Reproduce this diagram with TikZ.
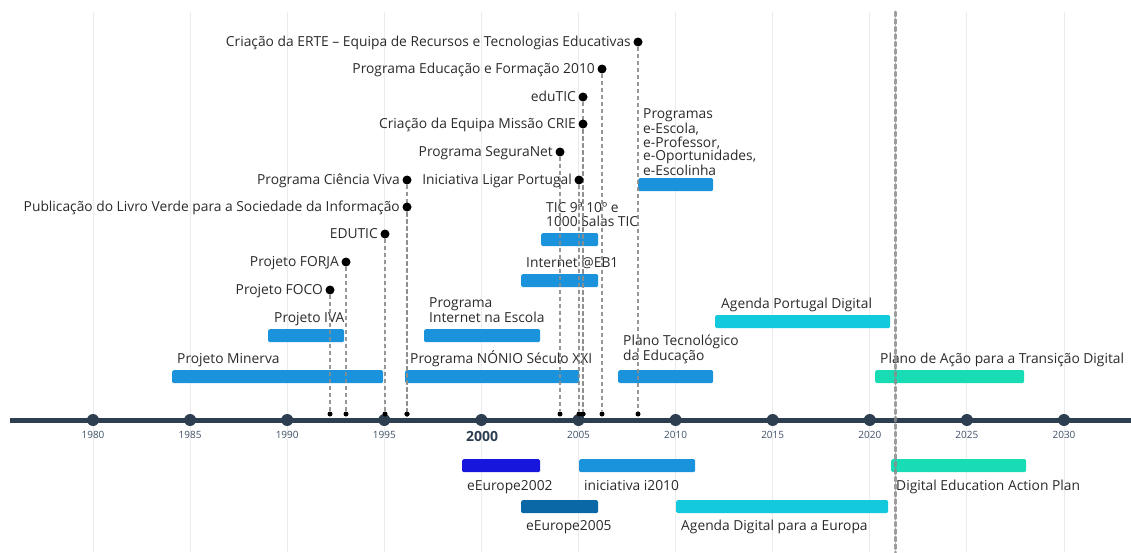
\documentclass[tikz,border=0pt]{standalone}
\usepackage{fontspec}
\setmainfont{Open Sans}
\definecolor{gridc}{HTML}{EBEBEB}
\definecolor{axisc}{HTML}{2C3E50}
\definecolor{barblue}{HTML}{1A93DC}
\definecolor{bluedeep}{HTML}{1616DC}
\definecolor{bluedark}{HTML}{0A68A6}
\definecolor{cyanc}{HTML}{12CADC}
\definecolor{tealc}{HTML}{17DCB4}
\definecolor{dashc}{HTML}{8C8C8C}
\definecolor{txtc}{HTML}{2A2A2A}
\definecolor{yearc}{HTML}{3E5068}
\begin{document}
\begin{tikzpicture}[x=1pt,y=-1pt,
  gridline/.style={draw=gridc, line width=1pt},
  axisline/.style={draw=axisc, line width=5pt},
  yeardot/.style={circle, fill=axisc, minimum size=12pt, inner sep=0pt},
  yearlbl/.style={font=\fontsize{10}{12}\selectfont, text=yearc, inner sep=0pt},
  bar/.style={rounded corners=1.5pt, minimum height=13pt, inner sep=0pt, anchor=north west},
  lbl/.style={font=\fontsize{13.8}{13.7}\selectfont, text=txtc, inner sep=0pt, align=left, anchor=base west},
  evlbl/.style={font=\fontsize{13.8}{13.7}\selectfont, text=txtc, inner sep=0pt, anchor=mid east},
  evdot/.style={circle, fill=black, inner sep=0pt, minimum size=9pt},
  axdot/.style={circle, fill=black, inner sep=0pt, minimum size=5pt},
  evline/.style={draw=dashc, line width=1.5pt, dash pattern=on 4pt off 3pt, opacity=0.9},
  nowline/.style={draw=dashc, line width=3pt, dash pattern=on 4pt off 3.5pt, line cap=round, opacity=0.85}
]
\useasboundingbox (0,0) rectangle (1131,552);
% grid
\foreach \i in {0,...,10}{
  \draw[gridline] ({93+97.1*\i},12) -- ({93+97.1*\i},552);
}
% axis
\coordinate (axL) at (10,420);
\coordinate (axR) at (1131,420);
\draw[axisline] (axL) -- (axR);
\foreach \yr [count=\i from 0] in {1980,1985,...,2030}{
  \node[yeardot] (y\yr) at ({93+97.1*\i},420) {};
}
\foreach \yr [count=\i from 0] in {1980,1985,1990,1995}{
  \node[yearlbl] (l\yr) at ({93+97.1*\i},434.5) {\yr};
}
\node[font=\fontsize{14}{16}\selectfont\bfseries, text=axisc, inner sep=0pt] (l2000) at (482,436) {2000};
\foreach \yr [count=\i from 5] in {2005,2010,...,2030}{
  \node[yearlbl] (l\yr) at ({93+97.1*\i},434.5) {\yr};
}
% bars above
\node[bar, fill=barblue, minimum width=211pt] (minerva) at (172,370) {};
\node[lbl] (minervaL) at (177,363) {Projeto Minerva};
\node[bar, fill=barblue, minimum width=76pt] (iva) at (268,329) {};
\node[lbl] (ivaL) at (274,322) {Projeto IVA};
\node[bar, fill=barblue, minimum width=174pt] (nonio) at (405,370) {};
\node[lbl] (nonioL) at (410,363) {Programa NÓNIO Século XXI};
\node[bar, fill=barblue, minimum width=116pt] (ine) at (424,329) {};
\node[lbl, anchor=south west] (ineL) at (429,323) {Programa\\Internet na Escola};
\node[bar, fill=barblue, minimum width=77pt] (eb1) at (521,274) {};
\node[lbl] (eb1L) at (526,267) {Internet @EB1};
\node[bar, fill=barblue, minimum width=57pt] (tic) at (541,233) {};
\node[lbl, anchor=south west] (ticL) at (546,227) {TIC 9ª 10º e\\1000 Salas TIC};
\node[bar, fill=barblue, minimum width=75pt] (esc) at (638,178) {};
\node[lbl, anchor=south west] (escL) at (643,176) {Programas\\e-Escola,\\e-Professor,\\e-Oportunidades,\\e-Escolinha};
\node[bar, fill=barblue, minimum width=95pt] (pte) at (618,370) {};
\node[lbl, anchor=south west] (pteL) at (623,364) {Plano Tecnológico\\da Educação};
\node[bar, fill=cyanc, minimum width=175pt] (apd) at (715,315) {};
\node[lbl] (apdL) at (721,308) {Agenda Portugal Digital};
\node[bar, fill=tealc, minimum width=149pt] (patd) at (875,370) {};
\node[lbl] (patdL) at (880,363) {Plano de Ação para a Transição Digital};
% bars below
\node[bar, fill=bluedeep, minimum width=78pt] (ee02) at (462,459) {};
\node[lbl] (ee02L) at (467,490) {eEurope2002};
\node[bar, fill=bluedark, minimum width=77pt] (ee05) at (521,500) {};
\node[lbl] (ee05L) at (526,530) {eEurope2005};
\node[bar, fill=barblue, minimum width=116pt] (i2010) at (579,459) {};
\node[lbl] (i2010L) at (584,490) {iniciativa i2010};
\node[bar, fill=cyanc, minimum width=212pt] (ade) at (676,500) {};
\node[lbl] (adeL) at (681,530) {Agenda Digital para a Europa};
\node[bar, fill=tealc, minimum width=135pt] (deap) at (891,459) {};
\node[lbl] (deapL) at (896,490) {Digital Education Action Plan};
% events
\foreach \nm/\x/\y/\t in {
  erte/638/42/{Criação da ERTE – Equipa de Recursos e Tecnologias Educativas},
  ef/602/69/{Programa Educação e Formação 2010},
  edutic/583/97/{eduTIC},
  crie/583/124/{Criação da Equipa Missão CRIE},
  segura/560/152/{Programa SeguraNet},
  ligar/579/180/{Iniciativa Ligar Portugal},
  ciencia/407/180/{Programa Ciência Viva},
  livro/407/207/{Publicação do Livro Verde para a Sociedade da Informação},
  eduticb/385/234/{EDUTIC},
  forja/346/262/{Projeto FORJA},
  foco/330/290/{Projeto FOCO}}{
  \node[evdot] (\nm) at (\x,\y) {};
  \node[evlbl] (\nm L) at (\x-7,\y+1.5) {\t};
  \node[axdot] (\nm A) at (\x,414) {};
  \draw[evline] (\nm) -- (\nm A);
}
% current year line
\coordinate (nowT) at (895,12);
\coordinate (nowB) at (895,552);
\draw[nowline] (nowT) -- (nowB);
\end{tikzpicture}
\end{document}
